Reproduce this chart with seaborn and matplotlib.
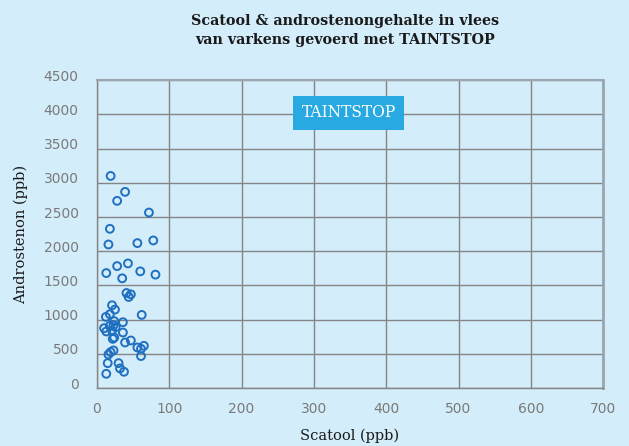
import matplotlib
matplotlib.use("Agg")
import matplotlib.pyplot as plt
import matplotlib.transforms as mtransforms
import seaborn as sns
import pandas as pd

scatool = [19, 39, 28, 72, 18, 16, 56, 78, 13, 28, 43, 60, 81, 35, 41, 47, 44,
           21, 25, 62, 18, 12.5, 36, 24, 10, 13, 18, 23, 26, 21, 36, 24, 22,
           39, 47, 56, 61, 65, 61, 23, 19, 16, 15, 30, 32, 37.5, 13]
androstenon = [3101, 2868, 2737, 2566, 2328, 2099, 2119, 2158, 1681, 1783, 1822,
               1706, 1658, 1604, 1389, 1370, 1331, 1210, 1147, 1069, 1079, 1040,
               962, 977, 875, 827, 908, 919, 890, 841, 812, 739, 719, 666, 695,
               593, 573, 617, 467, 550, 525, 491, 364, 364, 287, 238, 208]
x_ticks = [0, 100, 200, 300, 400, 500, 600, 700]
y_ticks = [0, 500, 1000, 1500, 2000, 2500, 3000, 3500, 4000, 4500]

df = pd.DataFrame({"Scatool (ppb)": scatool, "Androstenon (ppb)": androstenon})

bg = "#D4EDFA"
sns.set_style("white")
fig = plt.figure(figsize=(6.29, 4.46), dpi=100, facecolor=bg)
ax = fig.add_axes([0.154, 0.130, 0.805, 0.690])
ax.set_facecolor(bg)

sns.scatterplot(data=df, x="Scatool (ppb)", y="Androstenon (ppb)", ax=ax,
                facecolor="none", edgecolor="#1F70C1", linewidth=1.4, s=32,
                marker="o", zorder=3)

ax.set_xlim(0, 700)
ax.set_ylim(0, 4500)
ax.set_xticks(x_ticks)
ax.set_yticks(y_ticks)
ax.set_xticklabels([str(v) for v in x_ticks])
ax.set_yticklabels([str(v) for v in y_ticks])
ax.grid(True, color="#858585", linewidth=1.0)
ax.set_axisbelow(True)
for sp in ax.spines.values():
    sp.set_color("#858585")
    sp.set_linewidth(1.0)
ax.spines["right"].set_color("#9AA6AE")
ax.spines["right"].set_linewidth(2.0)
ax.spines["top"].set_color("#9AA6AE")
ax.spines["top"].set_linewidth(1.5)

ax.tick_params(axis="both", length=0, labelsize=10, labelcolor="#7A7A7A")
ax.tick_params(axis="x", pad=10)
ax.tick_params(axis="y", pad=13)
for lbl in ax.get_xticklabels() + ax.get_yticklabels():
    lbl.set_family("DejaVu Sans")
shift_up = mtransforms.ScaledTranslation(0, 5 / 100, fig.dpi_scale_trans)
for lbl in ax.get_yticklabels():
    lbl.set_transform(lbl.get_transform() + shift_up)

ax.set_xlabel("Scatool (ppb)", family="DejaVu Serif", fontsize=10.5,
              color="#1A1A1A")
ax.set_ylabel("Androstenon (ppb)", family="DejaVu Serif", fontsize=10.5,
              color="#1A1A1A")
ax.xaxis.set_label_coords(0.5, -0.156)
ax.yaxis.set_label_coords(-0.150, 0.5)
ax.xaxis.label.set_va("center")
ax.yaxis.label.set_va("center")

fig.text(0.549, 0.931, "Scatool & androstenongehalte in vlees\nvan varkens gevoerd met TAINTSTOP",
         ha="center", va="center", family="DejaVu Serif", fontweight="bold",
         fontsize=10.3, color="#1A1A1A", linespacing=1.45)

ax.text(0.497, 0.895, "TAINTSTOP", transform=ax.transAxes, ha="center", va="center",
        family="DejaVu Serif", fontsize=11.2, color="white", zorder=5,
        bbox=dict(boxstyle="square,pad=0.55", facecolor="#29A9E1", edgecolor="none"))

fig.savefig("out.png", dpi=100, facecolor=bg)
